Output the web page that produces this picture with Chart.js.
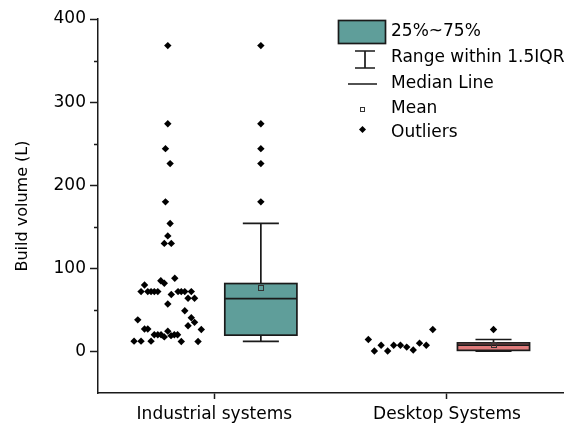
<!DOCTYPE html>
<html>
<head>
<meta charset="utf-8">
<script src="https://cdn.jsdelivr.net/npm/chart.js@4/dist/chart.umd.min.js"></script>
<style>
  html, body { margin: 0; padding: 0; background: #fff; }
  #wrap { width: 567px; height: 430px; }
</style>
</head>
<body>
<div id="wrap"><canvas id="c" width="567" height="430"></canvas></div>
<script>
// Categories and the raw build volumes (litres) of each system type
const categories = ['Industrial systems', 'Desktop Systems'];

const industrialVolumes = [368, 274, 244, 226, 180, 154, 139, 130, 130,
  88, 85, 82, 80, 72, 72, 72, 72, 72, 68.5, 72, 72, 72, 72, 64, 64, 57, 49,
  38, 40.5, 35, 31, 26.4, 27, 27, 24.4, 20, 20, 20, 17.5, 19, 20, 20,
  12.4, 12.4, 12.4, 12, 12];
// horizontal spread of each raw point, in category units left of the category
const industrialSpread = [-0.20, -0.20, -0.21, -0.19, -0.21, -0.19, -0.20, -0.215, -0.185,
  -0.17, -0.23, -0.215, -0.30, -0.315, -0.286, -0.272, -0.258, -0.243, -0.185, -0.156, -0.142, -0.127, -0.099, -0.113, -0.085, -0.20, -0.127,
  -0.329, -0.099, -0.085, -0.113, -0.056, -0.30, -0.286, -0.20, -0.258, -0.243, -0.229, -0.215, -0.186, -0.172, -0.158,
  -0.345, -0.315, -0.272, -0.142, -0.070];

const desktopVolumes = [14.4, 0.5, 7.5, 0.5, 7.5, 7.5, 5.2, 1.8, 10, 7.5, 26.4];
const desktopSpread = [-0.338, -0.312, -0.283, -0.255, -0.229, -0.200, -0.173, -0.145, -0.118, -0.089, -0.061];

// Box statistics per category
const boxLow = [12, 0.5];
const boxQ1 = [19.6, 1.3];
const boxMedian = [63.5, 7.5];
const boxQ3 = [81.7, 10.3];
const boxHigh = [154, 14.4];
const boxMean = [76, 8];
const boxOutliers = [[368, 274, 244, 226, 180], [26.4]];

const yTicks = [0, 100, 200, 300, 400];
const yMinorTicks = [50, 150, 250, 350];

// drawing constants
const BOX_SHIFT = 0.2;     // box sits right of the category tick
const BOX_HALF = 0.155;    // half box width in category units
const BOX_FILLS = ['#5f9e9a', '#e07b7b'];
const INK = '#1a1a1a';
const FONT = 'DejaVu Sans';

const toPoints = (vals, spread, cat) => vals.map((v, i) => ({ x: cat + spread[i], y: v }));
const outlierPoints = [];
boxOutliers.forEach((list, i) => list.forEach(v => outlierPoints.push({ x: i + 1 + BOX_SHIFT, y: v })));

const diamond = { pointStyle: 'rectRot', pointRadius: 3.7, pointHoverRadius: 3.7,
  backgroundColor: '#000', borderColor: '#000', borderWidth: 0 };

const boxPlugin = {
  id: 'boxes',
  beforeDatasetsDraw(chart) {
    const { ctx, scales: { x, y } } = chart;
    ctx.save();
    categories.forEach((c, i) => {
      const cx = x.getPixelForValue(i + 1 + BOX_SHIFT);
      const half = x.getPixelForValue(i + 1 + BOX_SHIFT + BOX_HALF) - cx;
      const yLow = y.getPixelForValue(boxLow[i]);
      const yHigh = y.getPixelForValue(boxHigh[i]);
      const yQ1 = y.getPixelForValue(boxQ1[i]);
      const yQ3 = y.getPixelForValue(boxQ3[i]);
      const yMed = y.getPixelForValue(boxMedian[i]);
      const yMean = y.getPixelForValue(boxMean[i]);
      ctx.strokeStyle = INK;
      ctx.lineWidth = 1.7;
      // whiskers and caps
      ctx.beginPath();
      ctx.moveTo(cx, yHigh); ctx.lineTo(cx, yQ3);
      ctx.moveTo(cx, yQ1); ctx.lineTo(cx, yLow);
      ctx.moveTo(cx - half / 2, yHigh); ctx.lineTo(cx + half / 2, yHigh);
      ctx.moveTo(cx - half / 2, yLow); ctx.lineTo(cx + half / 2, yLow);
      ctx.stroke();
      // box
      ctx.fillStyle = BOX_FILLS[i];
      ctx.fillRect(cx - half, yQ3, half * 2, yQ1 - yQ3);
      ctx.strokeRect(cx - half, yQ3, half * 2, yQ1 - yQ3);
      // median
      ctx.beginPath();
      ctx.moveTo(cx - half, yMed); ctx.lineTo(cx + half, yMed);
      ctx.stroke();
      // mean
      ctx.lineWidth = 1;
      ctx.strokeStyle = '#333';
      ctx.strokeRect(Math.round(cx) - 2.5, Math.round(yMean) - 2.5, 5, 5);
    });
    ctx.restore();
  }
};

const minorTickPlugin = {
  id: 'minorTicks',
  afterDraw(chart) {
    const { ctx, chartArea, scales: { y } } = chart;
    ctx.save();
    ctx.strokeStyle = INK;
    ctx.lineWidth = 1.5;
    ctx.beginPath();
    yMinorTicks.forEach(v => {
      const py = Math.round(y.getPixelForValue(v)) + 0.5;
      ctx.moveTo(chartArea.left, py);
      ctx.lineTo(chartArea.left - 4, py);
    });
    ctx.stroke();
    ctx.restore();
  }
};

const legendPlugin = {
  id: 'boxLegend',
  afterDraw(chart) {
    const { ctx } = chart;
    ctx.save();
    ctx.font = '17px "' + FONT + '"';
    ctx.fillStyle = '#000';
    ctx.textBaseline = 'middle';
    ctx.textAlign = 'left';
    const tx = 391;
    const rows = ['25%~75%', 'Range within 1.5IQR', 'Median Line', 'Mean', 'Outliers'];
    const ys = [32, 58, 84, 109, 133];
    rows.forEach((t, i) => ctx.fillText(t, tx, ys[i]));
    ctx.strokeStyle = INK;
    ctx.lineWidth = 1.7;
    // box swatch
    ctx.fillStyle = BOX_FILLS[0];
    ctx.fillRect(338.5, 20.5, 47, 23);
    ctx.strokeRect(338.5, 20.5, 47, 23);
    // range glyph
    ctx.beginPath();
    ctx.moveTo(365, 51); ctx.lineTo(365, 68);
    ctx.moveTo(355, 51); ctx.lineTo(375, 51);
    ctx.moveTo(355, 68); ctx.lineTo(375, 68);
    // median glyph
    ctx.moveTo(348, 84); ctx.lineTo(377, 84);
    ctx.stroke();
    // mean glyph
    ctx.lineWidth = 1;
    ctx.strokeStyle = '#333';
    ctx.strokeRect(360.5, 107.5, 4, 4);
    // outlier glyph
    ctx.fillStyle = '#000';
    ctx.beginPath();
    ctx.moveTo(362.5, 126); ctx.lineTo(366, 129.5); ctx.lineTo(362.5, 133); ctx.lineTo(359, 129.5);
    ctx.closePath();
    ctx.fill();
    ctx.restore();
  }
};

Chart.defaults.font.family = FONT;
Chart.defaults.color = '#000';

new Chart(document.getElementById('c'), {
  type: 'scatter',
  data: {
    datasets: [
      Object.assign({ label: categories[0], data: toPoints(industrialVolumes, industrialSpread, 1) }, diamond),
      Object.assign({ label: categories[1], data: toPoints(desktopVolumes, desktopSpread, 2) }, diamond),
      Object.assign({ label: 'Outliers', data: outlierPoints }, diamond)
    ]
  },
  options: {
    responsive: false,
    animation: false,
    devicePixelRatio: 1,
    layout: { padding: { top: 19, right: 2, left: 0, bottom: 0 } },
    plugins: { legend: { display: false }, tooltip: { enabled: false } },
    scales: {
      x: {
        type: 'linear',
        min: 0.5, max: 2.5,
        afterBuildTicks: s => { s.ticks = categories.map((c, i) => ({ value: i + 1 })); },
        afterFit: s => { s.height = 37; },
        ticks: { callback: v => categories[v - 1] || '', font: { size: 17 }, padding: 5, maxRotation: 0 },
        grid: { display: true, drawOnChartArea: false, drawTicks: true, tickLength: 6, tickColor: INK, tickWidth: 1.5 },
        border: { display: true, color: INK, width: 1.5 }
      },
      y: {
        type: 'linear',
        min: -50, max: 400,
        afterBuildTicks: s => { s.ticks = yTicks.map(v => ({ value: v })); },
        afterFit: s => { s.width = 98; },
        ticks: { font: { size: 17 }, padding: 4 },
        grid: { display: true, drawOnChartArea: false, drawTicks: true, tickLength: 8, tickColor: INK, tickWidth: 1.5 },
        border: { display: true, color: INK, width: 1.5 },
        title: { display: true, text: 'Build volume (L)', font: { size: 16 }, padding: { top: 13, bottom: 0 } }
      }
    }
  },
  plugins: [boxPlugin, minorTickPlugin, legendPlugin]
});
</script>
</body>
</html>
